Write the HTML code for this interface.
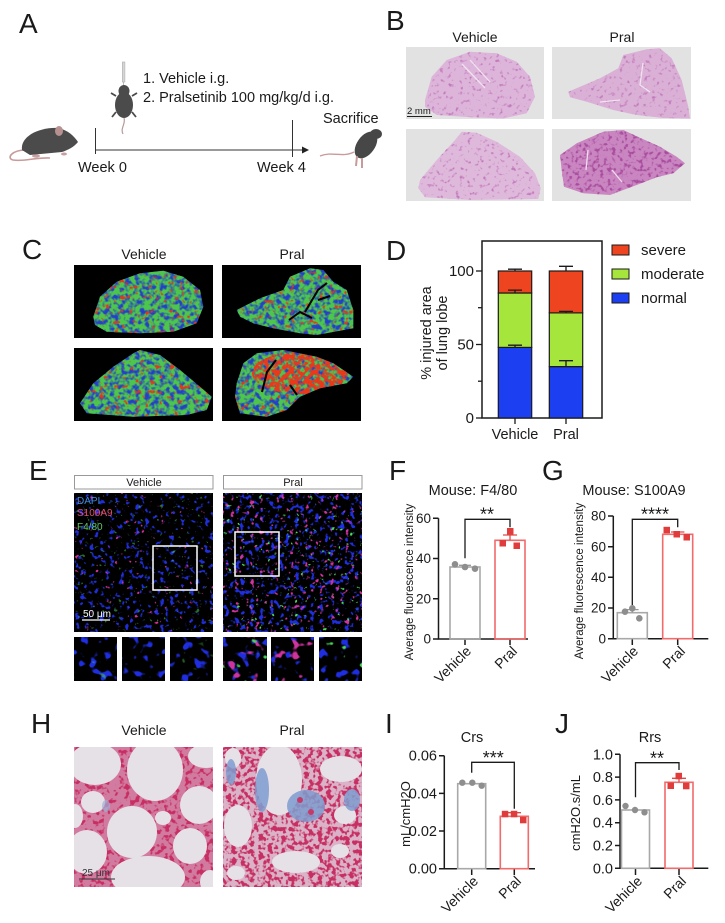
<!DOCTYPE html>
<html><head><meta charset="utf-8"><style>
html,body{margin:0;padding:0;background:#fff;}
svg{display:block;}
text{font-family:"Liberation Sans",Arial,sans-serif;fill:#1a1a1a;}
</style></head><body>
<svg width="725" height="923" viewBox="0 0 725 923" xmlns="http://www.w3.org/2000/svg">
<defs>
 <filter id="fBs" x="0" y="0" width="1" height="1" color-interpolation-filters="sRGB">
  <feTurbulence type="fractalNoise" baseFrequency="0.25" numOctaves="2" seed="2"/>
  <feColorMatrix type="matrix" values="0 0 0 0 0.76 0 0 0 0 0.48 0 0 0 0 0.73 5 0 0 0 -2.95"/>
 </filter>
 <filter id="fBs2" x="0" y="0" width="1" height="1" color-interpolation-filters="sRGB">
  <feTurbulence type="fractalNoise" baseFrequency="0.25" numOctaves="2" seed="5"/>
  <feColorMatrix type="matrix" values="0 0 0 0 0.66 0 0 0 0 0.30 0 0 0 0 0.62 5 0 0 0 -2.6"/>
 </filter>
 <filter id="fCg" x="0" y="0" width="1" height="1" color-interpolation-filters="sRGB">
  <feTurbulence type="fractalNoise" baseFrequency="0.2" numOctaves="2" seed="7"/>
  <feColorMatrix type="matrix" values="0 0 0 0 0.30 0 0 0 0 0.78 0 0 0 0 0.30 4 0 0 0 -1.3"/>
 </filter>
 <filter id="fCr" x="0" y="0" width="1" height="1" color-interpolation-filters="sRGB">
  <feTurbulence type="fractalNoise" baseFrequency="0.2" numOctaves="2" seed="9"/>
  <feColorMatrix type="matrix" values="0 0 0 0 0.90 0 0 0 0 0.20 0 0 0 0 0.10 0 6 0 0 -3.6"/>
 </filter>
 <filter id="fCr2" x="0" y="0" width="1" height="1" color-interpolation-filters="sRGB">
  <feTurbulence type="fractalNoise" baseFrequency="0.2" numOctaves="2" seed="11"/>
  <feColorMatrix type="matrix" values="0 0 0 0 0.92 0 0 0 0 0.22 0 0 0 0 0.10 0 6 0 0 -2.4"/>
 </filter>
 <filter id="fEb" x="0" y="0" width="1" height="1" color-interpolation-filters="sRGB">
  <feTurbulence type="fractalNoise" baseFrequency="0.2" numOctaves="2" seed="3"/>
  <feColorMatrix type="matrix" values="0 0 0 0 0.12 0 0 0 0 0.18 0 0 0 0 0.85 10 0 0 0 -6.1"/>
 </filter>
 <filter id="fEb2" x="0" y="0" width="1" height="1" color-interpolation-filters="sRGB">
  <feTurbulence type="fractalNoise" baseFrequency="0.2" numOctaves="2" seed="4"/>
  <feColorMatrix type="matrix" values="0 0 0 0 0.12 0 0 0 0 0.18 0 0 0 0 0.88 10 0 0 0 -5.8"/>
 </filter>
 <filter id="fEm" x="0" y="0" width="1" height="1" color-interpolation-filters="sRGB">
  <feTurbulence type="fractalNoise" baseFrequency="0.2" numOctaves="2" seed="6"/>
  <feColorMatrix type="matrix" values="0 0 0 0 0.85 0 0 0 0 0.20 0 0 0 0 0.60 0 11 0 0 -7.9"/>
 </filter>
 <filter id="fEm2" x="0" y="0" width="1" height="1" color-interpolation-filters="sRGB">
  <feTurbulence type="fractalNoise" baseFrequency="0.2" numOctaves="2" seed="8"/>
  <feColorMatrix type="matrix" values="0 0 0 0 0.82 0 0 0 0 0.20 0 0 0 0 0.62 0 10 0 0 -6.5"/>
 </filter>
 <filter id="fEg" x="0" y="0" width="1" height="1" color-interpolation-filters="sRGB">
  <feTurbulence type="fractalNoise" baseFrequency="0.22" numOctaves="2" seed="12"/>
  <feColorMatrix type="matrix" values="0 0 0 0 0.30 0 0 0 0 0.85 0 0 0 0 0.35 0 0 12 0 -8.5"/>
 </filter>
 <filter id="fEbi" x="0" y="0" width="1" height="1" color-interpolation-filters="sRGB">
  <feTurbulence type="fractalNoise" baseFrequency="0.1" numOctaves="2" seed="13"/>
  <feColorMatrix type="matrix" values="0 0 0 0 0.12 0 0 0 0 0.18 0 0 0 0 0.88 10 0 0 0 -5.9"/>
 </filter>
 <filter id="fEmi" x="0" y="0" width="1" height="1" color-interpolation-filters="sRGB">
  <feTurbulence type="fractalNoise" baseFrequency="0.1" numOctaves="2" seed="14"/>
  <feColorMatrix type="matrix" values="0 0 0 0 0.82 0 0 0 0 0.20 0 0 0 0 0.62 0 10 0 0 -6.3"/>
 </filter>
 <filter id="fEgi" x="0" y="0" width="1" height="1" color-interpolation-filters="sRGB">
  <feTurbulence type="fractalNoise" baseFrequency="0.1" numOctaves="2" seed="15"/>
  <feColorMatrix type="matrix" values="0 0 0 0 0.30 0 0 0 0 0.85 0 0 0 0 0.35 0 0 12 0 -8.4"/>
 </filter>
 <filter id="fHr" x="0" y="0" width="1" height="1" color-interpolation-filters="sRGB">
  <feTurbulence type="fractalNoise" baseFrequency="0.2" numOctaves="2" seed="16"/>
  <feColorMatrix type="matrix" values="0 0 0 0 0.78 0 0 0 0 0.18 0 0 0 0 0.38 8 0 0 0 -4.2"/>
 </filter>
 <filter id="fHr2" x="0" y="0" width="1" height="1" color-interpolation-filters="sRGB">
  <feTurbulence type="fractalNoise" baseFrequency="0.22" numOctaves="2" seed="17"/>
  <feColorMatrix type="matrix" values="0 0 0 0 0.78 0 0 0 0 0.18 0 0 0 0 0.38 8 0 0 0 -3.8"/>
 </filter>

 <clipPath id="bV1"><path d="M425,100 L431.7,76.7 L446.7,60 L470,51.7 L496.7,53.3 L516.7,61.7 L530,76.7 L535,96.7 L526.7,113.3 L503.3,118.5 L470,117.3 L436.7,115 L425,106.7 Z"/></clipPath>
 <clipPath id="bP1"><path d="M568.3,91.7 L600,78.3 L618.3,68.3 L623.3,55 L646.7,49.3 L660,48.3 L671.7,58.3 L681.7,80 L688.3,106.7 L690,118.5 L663.3,118 L636.7,115 L613.3,110 L586.7,101.7 L570,97.3 Z"/></clipPath>
 <clipPath id="bV2"><path d="M420,180 L436.7,160 L455,140 L461.7,131.7 L476.7,132.7 L496.7,141.7 L520,156.7 L535,173.3 L540.7,188.3 L538.3,199 L470,200 L425,197.3 L418.3,188.3 Z"/></clipPath>
 <clipPath id="bP2"><path d="M560,155 L576.7,143.3 L603.3,131.7 L623.3,130 L643.3,139.3 L660,146.7 L676.7,156.7 L685,163.3 L673.3,173.3 L656.7,177.3 L636.7,185 L610,195 L583.3,193.3 L564,186.7 L561.7,170 Z"/></clipPath>

 <clipPath id="cV1"><path d="M93.3,316.7 L100,296.7 L116.7,281.7 L140,273.3 L163.3,270.7 L183.3,276.7 L200,290 L203.3,306.7 L196.7,323.3 L173.3,331.7 L140,333.3 L106.7,331.7 L95,325 Z"/></clipPath>
 <clipPath id="cP1"><path d="M236.7,310 L260,298.3 L283.3,290 L290,276.7 L310,268.3 L323.3,270 L333.3,281.7 L346.7,290 L353.3,310 L353.3,328.3 L316.7,335 L300,333.3 L273.3,328.3 L253.3,323.3 L240,316.7 Z"/></clipPath>
 <clipPath id="cV2"><path d="M80,403.3 L93.3,383.3 L113.3,366.7 L133.3,353.3 L140,350 L160,355 L180,370 L200,386.7 L211.7,396.7 L206.7,410 L186.7,415 L133.3,416.7 L86.7,413.3 Z"/></clipPath>
 <clipPath id="cP2"><path d="M236.7,383.3 L243.3,363.3 L256.7,353.3 L283.3,350 L316.7,356.7 L333.3,363.3 L353.3,376.7 L346.7,383.3 L320,388.3 L300,396.7 L286.7,410 L266.7,416.7 L240,413.3 L235,396.7 Z"/></clipPath>
 <clipPath id="cP2r"><ellipse cx="300" cy="373" rx="48" ry="21"/></clipPath>

 <clipPath id="hV"><rect x="74" y="747" width="139" height="140"/></clipPath>
 <clipPath id="hP"><rect x="223" y="747" width="139" height="140"/></clipPath>
</defs>

<!-- ============ Panel A ============ -->
<text x="19" y="33" font-size="28">A</text>
<rect x="122.3" y="62" width="2.6" height="20" fill="#d6d6d6" stroke="#b0b0b0" stroke-width="0.6"/>
<line x1="123.6" y1="82" x2="123.6" y2="87" stroke="#aaa" stroke-width="0.8"/>
<path d="M124,118 C126,124 120,128 123,134" stroke="#b89a9a" stroke-width="1.2" fill="none"/>
<path d="M116,96 L111,93 M132,96 L137,93 M116,112 L112,117 M132,112 L136,117" stroke="#4a4a4a" stroke-width="1.8"/>
<ellipse cx="124" cy="105" rx="9" ry="13" fill="#4b4b4b"/>
<ellipse cx="124" cy="91" rx="5.5" ry="6" fill="#4b4b4b"/>
<text x="143" y="83" font-size="14.5">1. Vehicle i.g.</text>
<text x="143" y="102" font-size="14.5">2. Pralsetinib 100 mg/kg/d i.g.</text>
<path d="M26,150 C12,150 6,158 13,160 C24,162 36,157 50,158" stroke="#c89a9a" stroke-width="1.6" fill="none"/>
<path d="M22,150 C20,136 40,127 58,128 C68,130 74,136 78,142 C74,147 68,150 62,152 L30,155 Z" fill="#4b4b4b"/>
<ellipse cx="59" cy="131" rx="4" ry="5" fill="#b89090"/>
<ellipse cx="36" cy="156" rx="4" ry="1.6" fill="#c9a0a0"/>
<ellipse cx="64" cy="154" rx="3" ry="1.5" fill="#c9a0a0"/>
<line x1="95.5" y1="128" x2="95.5" y2="154" stroke="#333" stroke-width="1"/>
<line x1="292.5" y1="120" x2="292.5" y2="157" stroke="#333" stroke-width="1"/>
<line x1="95.5" y1="150" x2="304" y2="150" stroke="#333" stroke-width="1"/>
<path d="M302,146.5 L309,150 L302,153.5 Z" fill="#222"/>
<text x="78" y="172" font-size="14.5">Week 0</text>
<text x="257" y="172" font-size="14.5">Week 4</text>
<text x="323" y="123" font-size="14.5">Sacrifice</text>
<path d="M320,156 C332,151 342,158 354,152" stroke="#c89a9a" stroke-width="1.3" fill="none"/>
<ellipse cx="366" cy="145" rx="15" ry="9" transform="rotate(-55 366 145)" fill="#474747"/>
<ellipse cx="376" cy="134" rx="6" ry="5" fill="#474747"/>
<path d="M357,156 L356,166 M362,158 L362,168" stroke="#c89a9a" stroke-width="2"/>

<!-- ============ Panel B ============ -->
<text x="386" y="30" font-size="28">B</text>
<text x="475" y="42" font-size="14" text-anchor="middle">Vehicle</text>
<text x="622" y="42" font-size="14" text-anchor="middle">Pral</text>
<rect x="406" y="47" width="138" height="72" fill="#e2e2e3"/>
<rect x="552" y="47" width="139" height="72" fill="#e2e2e3"/>
<rect x="406" y="129" width="138" height="72" fill="#e2e2e3"/>
<rect x="552" y="129" width="139" height="72" fill="#e2e2e3"/>
<g clip-path="url(#bV1)"><rect x="406" y="47" width="138" height="72" fill="#ddb5da"/><rect x="406" y="47" width="138" height="72" filter="url(#fBs)"/></g>
<g clip-path="url(#bP1)"><rect x="552" y="47" width="139" height="72" fill="#dab0d6"/><rect x="552" y="47" width="139" height="72" filter="url(#fBs)"/></g>
<g clip-path="url(#bV2)"><rect x="406" y="129" width="138" height="72" fill="#dfb9dc"/><rect x="406" y="129" width="138" height="72" filter="url(#fBs)"/></g>
<g clip-path="url(#bP2)"><rect x="552" y="129" width="139" height="72" fill="#c986c1"/><rect x="552" y="129" width="139" height="72" filter="url(#fBs2)"/></g>
<path d="M462,64 L485,88 M470,60 L490,82 M600,102 L620,100 M643,63 L640,85 L650,92" stroke="#f0e2f0" stroke-width="1.3" fill="none"/>
<path d="M588,150 L586,170 M612,170 L622,182" stroke="#ecdcec" stroke-width="1.3" fill="none"/>
<text x="407" y="114" font-size="9.5">2 mm</text>
<line x1="407" y1="116.5" x2="432" y2="116.5" stroke="#222" stroke-width="1"/>

<!-- ============ Panel C ============ -->
<text x="22" y="259" font-size="28">C</text>
<text x="144" y="259" font-size="14" text-anchor="middle">Vehicle</text>
<text x="292" y="259" font-size="14" text-anchor="middle">Pral</text>
<rect x="74" y="265" width="139" height="73" fill="#000"/>
<rect x="222" y="265" width="139" height="73" fill="#000"/>
<rect x="74" y="348" width="139" height="73" fill="#000"/>
<rect x="222" y="348" width="139" height="73" fill="#000"/>
<g clip-path="url(#cV1)"><rect x="74" y="265" width="139" height="73" fill="#2440c8"/><rect x="74" y="265" width="139" height="73" filter="url(#fCg)"/><rect x="74" y="265" width="139" height="73" filter="url(#fCr)"/></g>
<g clip-path="url(#cP1)"><rect x="222" y="265" width="139" height="73" fill="#2440c8"/><rect x="222" y="265" width="139" height="73" filter="url(#fCg)"/><rect x="222" y="265" width="139" height="73" filter="url(#fCr)"/></g>
<g clip-path="url(#cV2)"><rect x="74" y="348" width="139" height="73" fill="#2440c8"/><rect x="74" y="348" width="139" height="73" filter="url(#fCg)"/><rect x="74" y="348" width="139" height="73" filter="url(#fCr)"/></g>
<g clip-path="url(#cP2)"><rect x="222" y="348" width="139" height="73" fill="#2440c8"/><rect x="222" y="348" width="139" height="73" filter="url(#fCg)"/><rect x="222" y="348" width="139" height="73" filter="url(#fCr)"/>
 <g clip-path="url(#cP2r)"><rect x="222" y="348" width="139" height="73" filter="url(#fCr2)"/></g></g>
<path d="M289,320 L300,312 L312,318 M305,312 L318,290 L327,283 M318,300 L330,296" stroke="#000" stroke-width="2" fill="none"/>
<path d="M262,392 L267,372 L276,360 M290,385 L297,395" stroke="#000" stroke-width="2" fill="none"/>

<!-- ============ Panel D ============ -->
<text x="386" y="260" font-size="28">D</text>
<rect x="482" y="241" width="120" height="177" fill="none" stroke="#1a1a1a" stroke-width="1.5"/>
<g stroke="#1a1a1a" stroke-width="1.3">
 <line x1="476" y1="271" x2="482" y2="271"/><line x1="478" y1="307.7" x2="482" y2="307.7"/>
 <line x1="476" y1="344.5" x2="482" y2="344.5"/><line x1="478" y1="381.2" x2="482" y2="381.2"/>
 <line x1="476" y1="418" x2="482" y2="418"/>
 <line x1="515" y1="418" x2="515" y2="424"/><line x1="566" y1="418" x2="566" y2="424"/>
</g>
<text x="474" y="276" font-size="15" text-anchor="end">100</text>
<text x="474" y="349.5" font-size="15" text-anchor="end">50</text>
<text x="474" y="423" font-size="15" text-anchor="end">0</text>
<text transform="translate(431,333) rotate(-90)" font-size="14.5" text-anchor="middle">% injured area</text>
<text transform="translate(447,333) rotate(-90)" font-size="14.5" text-anchor="middle">of lung lobe</text>
<g stroke="#1a1a1a" stroke-width="1.2">
 <rect x="498.3" y="347.4" width="33.4" height="70.6" fill="#1d3ff2"/>
 <rect x="498.3" y="293" width="33.4" height="54.4" fill="#a6e63c"/>
 <rect x="498.3" y="271" width="33.4" height="22" fill="#ee4520"/>
 <rect x="549.3" y="366.6" width="33.4" height="51.4" fill="#1d3ff2"/>
 <rect x="549.3" y="312.9" width="33.4" height="53.7" fill="#a6e63c"/>
 <rect x="549.3" y="271" width="33.4" height="41.9" fill="#ee4520"/>
</g>
<path d="M515,347.4 V345.2 M508,345.2 H522 M515,293 V290.1 M508,290.1 H522 M515,271 V269.2 M508,269.2 H522 M566,366.6 V360.7 M559,360.7 H573 M566,312.9 V311.4 M559,311.4 H573 M566,271 V266.3 M559,266.3 H573" stroke="#1a1a1a" stroke-width="1.3" fill="none"/>
<text x="515" y="439" font-size="14.5" text-anchor="middle">Vehicle</text>
<text x="566" y="439" font-size="14.5" text-anchor="middle">Pral</text>
<rect x="612" y="245" width="17" height="10" fill="#ee4520" stroke="#1a1a1a" stroke-width="1"/>
<rect x="612" y="269" width="17" height="10" fill="#a6e63c" stroke="#1a1a1a" stroke-width="1"/>
<rect x="612" y="293" width="17" height="10" fill="#1d3ff2" stroke="#1a1a1a" stroke-width="1"/>
<text x="641" y="255" font-size="15">severe</text>
<text x="641" y="279" font-size="15">moderate</text>
<text x="641" y="303" font-size="15">normal</text>

<!-- ============ Panel E ============ -->
<text x="29" y="480" font-size="28">E</text>
<rect x="74.5" y="475.5" width="138.5" height="13.5" fill="#fff" stroke="#999" stroke-width="1"/>
<rect x="223.5" y="475.5" width="138.5" height="13.5" fill="#fff" stroke="#999" stroke-width="1"/>
<text x="144" y="486" font-size="11" text-anchor="middle">Vehicle</text>
<text x="293" y="486" font-size="11" text-anchor="middle">Pral</text>
<rect x="74" y="493" width="139" height="139" fill="#000"/>
<rect x="74" y="493" width="139" height="139" filter="url(#fEb)"/>
<rect x="74" y="493" width="139" height="139" filter="url(#fEg)" opacity="0.5"/>
<rect x="74" y="493" width="139" height="139" filter="url(#fEm)"/>
<rect x="223" y="493" width="139" height="139" fill="#000"/>
<rect x="223" y="493" width="139" height="139" filter="url(#fEb2)"/>
<rect x="223" y="493" width="139" height="139" filter="url(#fEm2)"/>
<rect x="223" y="493" width="139" height="139" filter="url(#fEg)"/>
<rect x="153" y="546" width="44" height="44" fill="none" stroke="#fff" stroke-width="1.5"/>
<rect x="235" y="532" width="44" height="44" fill="none" stroke="#fff" stroke-width="1.5"/>
<text x="77" y="504" font-size="10" style="fill:#3f8fe0">DAPI</text>
<text x="77" y="516" font-size="10" style="fill:#e0506e">S100A9</text>
<text x="77" y="530" font-size="10" style="fill:#5fc85a">F4/80</text>
<text x="83" y="617" font-size="10" style="fill:#fff">50 μm</text>
<line x1="82" y1="620" x2="110" y2="620" stroke="#fff" stroke-width="1.2"/>
<rect x="74" y="637" width="43" height="44" fill="#000"/>
<rect x="74" y="637" width="43" height="44" filter="url(#fEbi)"/>
<rect x="74" y="637" width="43" height="44" filter="url(#fEgi)" opacity="0.5"/>
<rect x="122" y="637" width="43" height="44" fill="#000"/>
<rect x="122" y="637" width="43" height="44" filter="url(#fEbi)"/>
<rect x="170" y="637" width="43" height="44" fill="#000"/>
<rect x="170" y="637" width="43" height="44" filter="url(#fEbi)"/>
<rect x="170" y="637" width="43" height="44" filter="url(#fEgi)" opacity="0.6"/>
<rect x="223" y="637" width="44" height="44" fill="#000"/>
<rect x="223" y="637" width="44" height="44" filter="url(#fEbi)"/>
<rect x="223" y="637" width="44" height="44" filter="url(#fEmi)"/>
<rect x="223" y="637" width="44" height="44" filter="url(#fEgi)"/>
<rect x="271" y="637" width="43" height="44" fill="#000"/>
<rect x="271" y="637" width="43" height="44" filter="url(#fEbi)"/>
<rect x="271" y="637" width="43" height="44" filter="url(#fEmi)"/>
<rect x="319" y="637" width="43" height="44" fill="#000"/>
<rect x="319" y="637" width="43" height="44" filter="url(#fEbi)"/>
<rect x="319" y="637" width="43" height="44" filter="url(#fEgi)"/>

<!-- ============ Panel F ============ -->
<text x="389" y="480" font-size="28">F</text>
<text x="473" y="495" font-size="14.5" text-anchor="middle">Mouse: F4/80</text>
<g stroke="#1a1a1a" stroke-width="1.5" fill="none">
 <path d="M438.5,518.3 V639 H528"/>
 <path d="M433,518.3 H438.5 M433,558.5 H438.5 M433,598.8 H438.5 M433,639 H438.5 M465,639 V645 M510,639 V645"/>
</g>
<text x="431" y="523" font-size="13.5" text-anchor="end">60</text>
<text x="431" y="563" font-size="13.5" text-anchor="end">40</text>
<text x="431" y="603.5" font-size="13.5" text-anchor="end">20</text>
<text x="431" y="643.7" font-size="13.5" text-anchor="end">0</text>
<text transform="translate(413,582) rotate(-90)" font-size="11.5" text-anchor="middle">Average fluorescence intensity</text>
<rect x="450" y="567" width="30" height="72" fill="none" stroke="#a8a8a8" stroke-width="1.6"/>
<rect x="495" y="540.3" width="30" height="98.7" fill="none" stroke="#f26b6b" stroke-width="1.6"/>
<path d="M465,567 V565.3 M459,565.3 H471" stroke="#999" stroke-width="1.3"/>
<path d="M510,540.3 V535 M503,535 H517" stroke="#e04848" stroke-width="1.3"/>
<circle cx="455" cy="564.3" r="3.3" fill="#8e8e8e"/><circle cx="465" cy="567" r="3.3" fill="#8e8e8e"/><circle cx="475" cy="568.7" r="3.3" fill="#8e8e8e"/>
<rect x="507" y="528" width="6.5" height="6.5" fill="#e03c3c"/><rect x="499.5" y="540" width="6.5" height="6.5" fill="#e03c3c"/><rect x="513.5" y="542.5" width="6.5" height="6.5" fill="#e03c3c"/>
<path d="M465,558.3 V519.3 H510 V527.3" stroke="#1a1a1a" stroke-width="1.3" fill="none"/>
<text x="487" y="520.5" font-size="18" text-anchor="middle">**</text>
<text transform="translate(472,652) rotate(-45)" font-size="14" text-anchor="end">Vehicle</text>
<text transform="translate(518,652) rotate(-45)" font-size="14" text-anchor="end">Pral</text>

<!-- ============ Panel G ============ -->
<text x="542" y="480" font-size="28">G</text>
<text x="634" y="495" font-size="14.5" text-anchor="middle">Mouse: S100A9</text>
<g stroke="#1a1a1a" stroke-width="1.5" fill="none">
 <path d="M613.3,516 V638.7 H708.3"/>
 <path d="M608,516 H613.3 M608,546.7 H613.3 M608,577.3 H613.3 M608,608 H613.3 M608,638.7 H613.3 M632.3,638.7 V645 M677.7,638.7 V645"/>
</g>
<text x="606" y="520.7" font-size="13.5" text-anchor="end">80</text>
<text x="606" y="551.4" font-size="13.5" text-anchor="end">60</text>
<text x="606" y="582" font-size="13.5" text-anchor="end">40</text>
<text x="606" y="612.7" font-size="13.5" text-anchor="end">20</text>
<text x="606" y="643.4" font-size="13.5" text-anchor="end">0</text>
<text transform="translate(583,581) rotate(-90)" font-size="11.5" text-anchor="middle">Average fluorescence intensity</text>
<rect x="617.3" y="612.7" width="30" height="26" fill="none" stroke="#a8a8a8" stroke-width="1.6"/>
<rect x="662.7" y="534.3" width="30" height="104.4" fill="none" stroke="#f26b6b" stroke-width="1.6"/>
<path d="M632.3,612.7 V609.6 M626,609.6 H638.6" stroke="#999" stroke-width="1.3"/>
<path d="M677.7,534.3 V532 M671,532 H684.4" stroke="#e04848" stroke-width="1.3"/>
<circle cx="625" cy="611.7" r="3.3" fill="#8e8e8e"/><circle cx="632.3" cy="608.3" r="3.3" fill="#8e8e8e"/><circle cx="639.3" cy="618.3" r="3.3" fill="#8e8e8e"/>
<rect x="663.5" y="526.8" width="6.5" height="6.5" fill="#e03c3c"/><rect x="673.5" y="531" width="6.5" height="6.5" fill="#e03c3c"/><rect x="683.5" y="534" width="6.5" height="6.5" fill="#e03c3c"/>
<path d="M632.3,605 V519.3 H677.7 V527.3" stroke="#1a1a1a" stroke-width="1.3" fill="none"/>
<text x="655" y="520.5" font-size="18" text-anchor="middle">****</text>
<text transform="translate(639,652) rotate(-45)" font-size="14" text-anchor="end">Vehicle</text>
<text transform="translate(686,652) rotate(-45)" font-size="14" text-anchor="end">Pral</text>

<!-- ============ Panel H ============ -->
<text x="31" y="733" font-size="28">H</text>
<text x="144" y="735" font-size="14" text-anchor="middle">Vehicle</text>
<text x="292" y="735" font-size="14" text-anchor="middle">Pral</text>
<g clip-path="url(#hV)">
 <rect x="74" y="747" width="139" height="140" fill="#d27ba0"/>
 <rect x="74" y="747" width="139" height="140" filter="url(#fHr)"/>
 <g fill="#e6e0e7">
  <ellipse cx="95" cy="764" rx="26" ry="21"/>
  <ellipse cx="155" cy="770" rx="28" ry="31"/>
  <ellipse cx="206" cy="756" rx="18" ry="12"/>
  <ellipse cx="199" cy="805" rx="19" ry="19"/>
  <ellipse cx="93" cy="802" rx="12" ry="11"/>
  <ellipse cx="75" cy="816" rx="8" ry="12"/>
  <ellipse cx="132" cy="832" rx="25" ry="26"/>
  <ellipse cx="163" cy="818" rx="8" ry="7"/>
  <ellipse cx="190" cy="846" rx="17" ry="18"/>
  <ellipse cx="87" cy="852" rx="20" ry="22"/>
  <ellipse cx="148" cy="877" rx="37" ry="21"/>
  <ellipse cx="210" cy="882" rx="10" ry="12"/>
 </g>
 <ellipse cx="106" cy="806" rx="4" ry="6" fill="#9fb0d6" opacity="0.7"/>
</g>
<g clip-path="url(#hP)">
 <rect x="223" y="747" width="139" height="140" fill="#dbb3c8"/>
 <rect x="223" y="747" width="139" height="140" filter="url(#fHr2)"/>
 <g fill="#e6e0e7">
  <ellipse cx="279" cy="780" rx="23" ry="35"/>
  <ellipse cx="233" cy="758" rx="8" ry="10"/>
  <ellipse cx="341" cy="769" rx="21" ry="13"/>
  <ellipse cx="238" cy="826" rx="14" ry="21"/>
  <ellipse cx="345" cy="815" rx="11" ry="9"/>
  <ellipse cx="296" cy="862" rx="24" ry="11"/>
  <ellipse cx="236" cy="873" rx="9" ry="7"/>
  <ellipse cx="340" cy="851" rx="9" ry="7"/>
 </g>
 <g fill="#7f9dd0" opacity="0.85">
  <ellipse cx="306" cy="806" rx="19" ry="16"/>
  <ellipse cx="262" cy="790" rx="7" ry="22"/>
  <ellipse cx="231" cy="772" rx="5" ry="13"/>
  <ellipse cx="352" cy="800" rx="8" ry="11"/>
 </g>
 <circle cx="300" cy="800" r="3" fill="#c43a6a"/><circle cx="311" cy="812" r="3" fill="#c43a6a"/>
</g>
<text x="82" y="876" font-size="10" style="fill:#333">25 μm</text>
<line x1="79" y1="879" x2="115" y2="879" stroke="#333" stroke-width="1"/>

<!-- ============ Panel I ============ -->
<text x="385" y="733" font-size="28">I</text>
<text x="472" y="742" font-size="14.5" text-anchor="middle">Crs</text>
<g stroke="#1a1a1a" stroke-width="1.5" fill="none">
 <path d="M444.3,755.7 V868.7 H535"/>
 <path d="M439,755.7 H444.3 M439,793.4 H444.3 M439,831 H444.3 M439,868.7 H444.3 M471.7,868.7 V875 M514.3,868.7 V875"/>
</g>
<text x="437" y="760.7" font-size="14.5" text-anchor="end">0.06</text>
<text x="437" y="798.4" font-size="14.5" text-anchor="end">0.04</text>
<text x="437" y="836" font-size="14.5" text-anchor="end">0.02</text>
<text x="437" y="873.7" font-size="14.5" text-anchor="end">0.00</text>
<text transform="translate(410,814) rotate(-90)" font-size="13" text-anchor="middle">mL/cmH2O</text>
<rect x="457.7" y="783.7" width="28" height="85" fill="none" stroke="#a8a8a8" stroke-width="1.6"/>
<rect x="500.3" y="816.3" width="28" height="52.4" fill="none" stroke="#f26b6b" stroke-width="1.6"/>
<path d="M514.3,816.3 V812.7 M507.5,812.7 H521" stroke="#e04848" stroke-width="1.3"/>
<circle cx="462.3" cy="782.7" r="3.2" fill="#8e8e8e"/><circle cx="472.3" cy="782.7" r="3.2" fill="#8e8e8e"/><circle cx="481.7" cy="785.7" r="3.2" fill="#8e8e8e"/>
<rect x="501.8" y="810.8" width="6.5" height="6.5" fill="#e03c3c"/><rect x="510.8" y="810.8" width="6.5" height="6.5" fill="#e03c3c"/><rect x="520" y="816.8" width="6.5" height="6.5" fill="#e03c3c"/>
<path d="M471.7,772.7 V762.3 H514.3 V808.7" stroke="#1a1a1a" stroke-width="1.3" fill="none"/>
<text x="493.3" y="764" font-size="18" text-anchor="middle">***</text>
<text transform="translate(479,882) rotate(-45)" font-size="14" text-anchor="end">Vehicle</text>
<text transform="translate(522,882) rotate(-45)" font-size="14" text-anchor="end">Pral</text>

<!-- ============ Panel J ============ -->
<text x="555" y="733" font-size="28">J</text>
<text x="650" y="742" font-size="14.5" text-anchor="middle">Rrs</text>
<g stroke="#1a1a1a" stroke-width="1.5" fill="none">
 <path d="M620,754.3 V868.3 H708.3"/>
 <path d="M615,754.3 H620 M615,777.1 H620 M615,799.9 H620 M615,822.7 H620 M615,845.5 H620 M615,868.3 H620 M635.5,868.3 V875 M679,868.3 V875"/>
</g>
<text x="613" y="759.3" font-size="14.5" text-anchor="end">1.0</text>
<text x="613" y="782.1" font-size="14.5" text-anchor="end">0.8</text>
<text x="613" y="804.9" font-size="14.5" text-anchor="end">0.6</text>
<text x="613" y="827.7" font-size="14.5" text-anchor="end">0.4</text>
<text x="613" y="850.5" font-size="14.5" text-anchor="end">0.2</text>
<text x="613" y="873.3" font-size="14.5" text-anchor="end">0.0</text>
<text transform="translate(580,813) rotate(-90)" font-size="13" text-anchor="middle">cmH2O.s/mL</text>
<rect x="621.5" y="810" width="28" height="58.3" fill="none" stroke="#a8a8a8" stroke-width="1.6"/>
<rect x="665" y="782.3" width="28" height="86" fill="none" stroke="#f26b6b" stroke-width="1.6"/>
<path d="M679,782.3 V778.3 M672,778.3 H686" stroke="#e04848" stroke-width="1.3"/>
<circle cx="625.5" cy="806" r="3.2" fill="#8e8e8e"/><circle cx="635" cy="810" r="3.2" fill="#8e8e8e"/><circle cx="644.5" cy="812.3" r="3.2" fill="#8e8e8e"/>
<rect x="675.5" y="772.8" width="6.5" height="6.5" fill="#e03c3c"/><rect x="667.5" y="782.5" width="6.5" height="6.5" fill="#e03c3c"/><rect x="683" y="782.8" width="6.5" height="6.5" fill="#e03c3c"/>
<path d="M635.5,797.3 V762.7 H679 V770" stroke="#1a1a1a" stroke-width="1.3" fill="none"/>
<text x="657" y="764.5" font-size="18" text-anchor="middle">**</text>
<text transform="translate(643,882) rotate(-45)" font-size="14" text-anchor="end">Vehicle</text>
<text transform="translate(687,882) rotate(-45)" font-size="14" text-anchor="end">Pral</text>
</svg>
</body></html>
